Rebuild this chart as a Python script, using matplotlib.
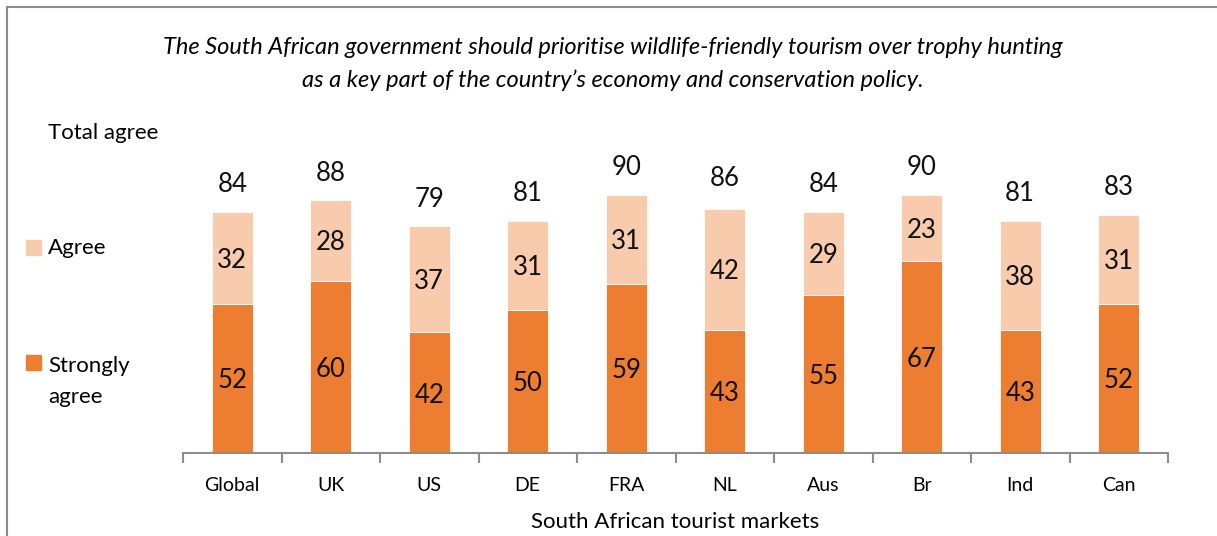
import matplotlib
matplotlib.use("Agg")
import matplotlib.pyplot as plt
import numpy as np

# data
markets = ["Global", "UK", "US", "DE", "FRA", "NL", "Aus", "Br", "Ind", "Can"]
strongly = [52, 60, 42, 50, 59, 43, 55, 67, 43, 52]
agree = [32, 28, 37, 31, 31, 42, 29, 23, 38, 31]
total = [84, 88, 79, 81, 90, 86, 84, 90, 81, 83]

dark = "#ED7D31"
light = "#F8CBAD"
grey = "#8C8C8C"

plt.rcParams["font.family"] = ["Lato", "DejaVu Sans"]

fig = plt.figure(figsize=(12.17, 5.36), dpi=100)
ax = fig.add_axes([183 / 1217, 83 / 536, 985 / 1217, 287 / 536])

x = np.arange(len(markets))
w = 0.42
ax.bar(x, strongly, w, color=dark, edgecolor="white", linewidth=0.6)
ax.bar(x, agree, w, bottom=strongly, color=light, edgecolor="white", linewidth=0.6)

# segment labels
for i in range(len(markets)):
    ax.text(x[i], strongly[i] / 2 - 0.8, str(strongly[i]), ha="center", va="center",
            fontsize=18.5, color="#111111")
    ax.text(x[i], strongly[i] + agree[i] / 2 - 0.8, str(agree[i]), ha="center", va="center",
            fontsize=18.5, color="#111111")
    ax.text(x[i], total[i] + 9.5, str(total[i]), ha="center", va="center",
            fontsize=18.5, color="#111111")

ax.set_xlim(-0.5, len(markets) - 0.5)
ax.set_ylim(0, 100)
ax.set_yticks([])
for s in ["top", "right", "left"]:
    ax.spines[s].set_visible(False)
ax.spines["bottom"].set_color(grey)
ax.spines["bottom"].set_linewidth(1.5)

ax.set_xticks(x)
ax.set_xticklabels(markets, fontsize=14)
ax.tick_params(axis="x", which="major", length=0, pad=17)
ax.set_xticks(np.arange(-0.5, len(markets), 1), minor=True)
ax.tick_params(axis="x", which="minor", length=7, width=1.5, color=grey)
ax.set_xlabel("South African tourist markets", fontsize=16, labelpad=13)

# title
fig.text(613 / 1217, 1 - 47 / 536, "The South African government should prioritise wildlife-friendly tourism over trophy hunting",
         ha="center", va="center", fontsize=17, style="italic")
fig.text(613 / 1217, 1 - 80 / 536, "as a key part of the country\u2019s economy and conservation policy.",
         ha="center", va="center", fontsize=17, style="italic")

# legend on the left
fig.text(48 / 1217, 1 - 133 / 536, "Total agree", ha="left", va="center", fontsize=16)
fig.patches.append(plt.Rectangle((26 / 1217, 1 - 255 / 536), 15 / 1217, 15 / 536,
                                 transform=fig.transFigure, color=light))
fig.text(48 / 1217, 1 - 248 / 536, "Agree", ha="left", va="center", fontsize=16)
fig.patches.append(plt.Rectangle((26 / 1217, 1 - 370 / 536), 15 / 1217, 15 / 536,
                                 transform=fig.transFigure, color=dark))
fig.text(48 / 1217, 1 - 366 / 536, "Strongly", ha="left", va="center", fontsize=16)
fig.text(48 / 1217, 1 - 397 / 536, "agree", ha="left", va="center", fontsize=16)

# frame lines (top and left only)
fig.add_artist(plt.Line2D([7 / 1217, 1], [1 - 7 / 536, 1 - 7 / 536], transform=fig.transFigure,
                          color=grey, linewidth=1.5))
fig.add_artist(plt.Line2D([7 / 1217, 7 / 1217], [0, 1 - 7 / 536], transform=fig.transFigure,
                          color=grey, linewidth=1.5))

fig.savefig("out.png", dpi=100)
